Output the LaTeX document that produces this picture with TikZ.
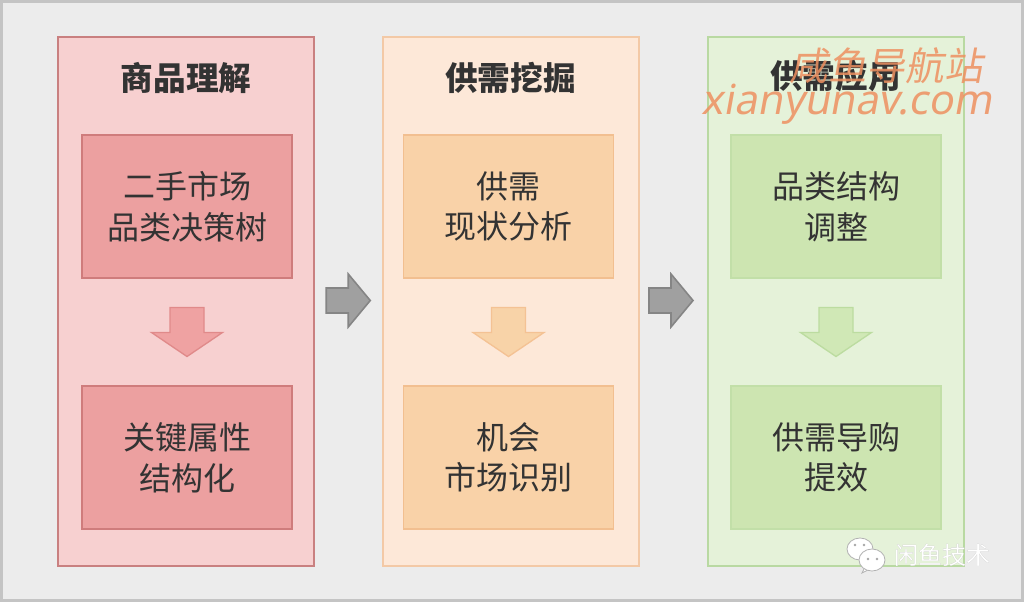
\documentclass[tikz,border=0pt]{standalone}
\usepackage{fontspec}
\usetikzlibrary{calc}
\newfontfamily\cjk{Noto Sans CJK SC}
\newfontfamily\cjkslant{Noto Sans CJK SC}[FakeSlant=0.18]
\newfontfamily\latslant{Noto Sans}[FakeSlant=0.18]
\definecolor{bg}{HTML}{ECECEC}
\definecolor{framec}{HTML}{C4C4C4}
\definecolor{txt}{HTML}{333333}
\definecolor{r1}{HTML}{F7D0D0}
\definecolor{r1d}{HTML}{C98080}
\definecolor{r2}{HTML}{ECA0A0}
\definecolor{r2d}{HTML}{CF7C7C}
\definecolor{r3}{HTML}{EFA2A2}
\definecolor{r3d}{HTML}{E08A8A}
\definecolor{o1}{HTML}{FDE8D8}
\definecolor{o1d}{HTML}{F3C9A6}
\definecolor{o2}{HTML}{F9D2A8}
\definecolor{o2d}{HTML}{F2BF90}
\definecolor{o3}{HTML}{F8D3A8}
\definecolor{o3d}{HTML}{F4C294}
\definecolor{g1}{HTML}{E5F2D9}
\definecolor{g1d}{HTML}{B9D9A2}
\definecolor{g2}{HTML}{CDE5B1}
\definecolor{g2d}{HTML}{C2DFA8}
\definecolor{g3}{HTML}{D0E8B6}
\definecolor{g3d}{HTML}{BCDCA0}
\definecolor{ga}{HTML}{A0A0A0}
\definecolor{gad}{HTML}{858585}
\definecolor{wmc}{HTML}{EE9060}
\tikzset{
  outer/.style={draw, line width=1.5pt, minimum width=192pt, minimum height=396.75pt, inner sep=0pt},
  inner/.style={draw, line width=1.2pt, minimum width=157.5pt, minimum height=107.25pt, inner sep=0pt, align=center, text=txt, font=\cjk\fontsize{24}{30.5}\selectfont},
  ctitle/.style={text=txt, font=\cjk\bfseries\fontsize{24.5}{30}\selectfont},
  wmark/.style={text=wmc, text opacity=0.85},
  pics/downarrow/.style={code={\path[pic actions] (-17,-24.5) -- (17,-24.5) -- (17,0.5) -- (35.5,0.5) -- (0,24.5) -- (-35.5,0.5) -- (-17,0.5) -- cycle;}},
  pics/rightarrow/.style={code={\path[pic actions] (-22,-12.5) -- (0,-12.5) -- (0,-26.5) -- (22,0) -- (0,26.5) -- (0,12.5) -- (-22,12.5) -- cycle;}}
}
\begin{document}
\begin{tikzpicture}[x=0.75pt,y=-0.75pt]
\useasboundingbox (0,0) rectangle (1024,602);
\fill[bg] (0,0) rectangle (1024,602);
\draw[framec, line width=2.25pt] (1.5,1.5) rectangle (1022.5,600.5);

% column 1
\node[outer, fill=r1, draw=r1d] (c1) at (186,301.5) {};
\node[ctitle] (t1) at (186,78) {商品理解};
\node[inner, fill=r2, draw=r2d] (a1) at (187,206.5) {二手市场\\品类决策树};
\node[inner, fill=r2, draw=r2d] (b1) at (187,457.5) {关键属性\\结构化};
\pic[fill=r3, draw=r3d, line width=1pt] at ($(a1.south)!0.5!(b1.north)$) {downarrow};

% column 2
\node[outer, fill=o1, draw=o1d] (c2) at (510.5,301.5) {};
\node[ctitle] (t2) at (510.5,78) {供需挖掘};
\node[inner, fill=o2, draw=o2d] (a2) at (508.5,206.5) {供需\\现状分析};
\node[inner, fill=o2, draw=o2d] (b2) at (508.5,457.5) {机会\\市场识别};
\pic[fill=o3, draw=o3d, line width=1pt] at ($(a2.south)!0.5!(b2.north)$) {downarrow};

% column 3
\node[outer, fill=g1, draw=g1d] (c3) at (835.5,301.5) {};
\node[ctitle] (t3) at (835.5,76) {供需应用};
\node[inner, fill=g2, draw=g2d] (a3) at (836,206.5) {品类结构\\调整};
\node[inner, fill=g2, draw=g2d] (b3) at (836,457.5) {供需导购\\提效};
\pic[fill=g3, draw=g3d, line width=1pt] at ($(a3.south)!0.5!(b3.north)$) {downarrow};

% grey arrows between columns
\pic[fill=ga, draw=gad, line width=1.2pt] at ($(c1.east)!0.5!(c2.west)+(0,-1)$) {rightarrow};
\pic[fill=ga, draw=gad, line width=1.2pt] at ($(c2.east)!0.5!(c3.west)+(-2,-1)$) {rightarrow};

% watermark
\node[wmark, font=\cjkslant\fontsize{29}{32}\selectfont] (wm1) at (886,66) {咸鱼导航站};
\node[wmark, font=\latslant\fontsize{31}{34}\selectfont] (wm2) at (847,104) {xianyunav.com};

% wechat mark
\begin{scope}[line width=0.6pt]
  \fill[white, draw=gray!60] (860,549) ellipse (13 and 11);
  \fill[white, draw=gray!60] (865,567) -- (862,573) -- (872,568) -- cycle;
  \fill[white, draw=gray!60] (872,560) ellipse (13 and 11);
  \fill[gray!70] (855,545) circle (1.4) (864,545) circle (1.4) (868,559) circle (1.4) (877,559) circle (1.4);
\end{scope}
\node[text=gray!70, font=\cjk\fontsize{18}{20}\selectfont] at (942.8,555.8) {闲鱼技术};
\node[text=white, font=\cjk\fontsize{18}{20}\selectfont] (wx) at (942,555) {闲鱼技术};
\end{tikzpicture}
\end{document}
